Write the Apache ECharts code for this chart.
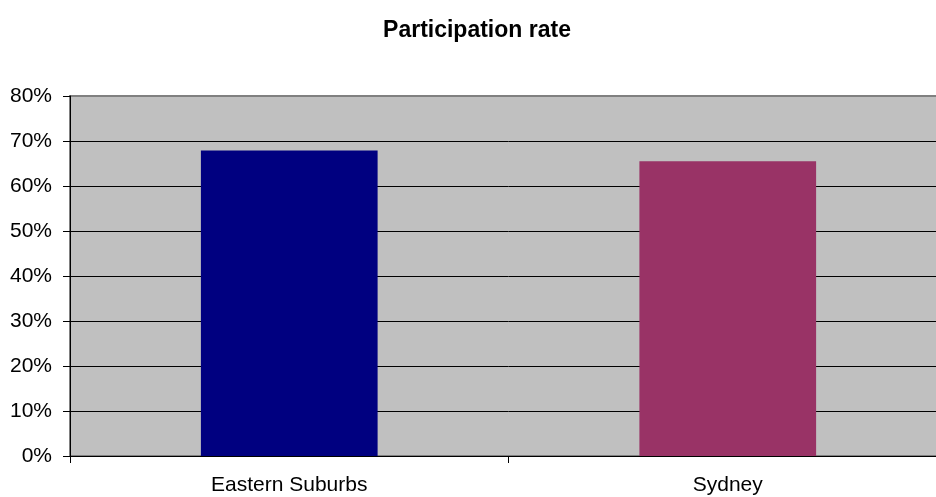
<!DOCTYPE html>
<html>
<head>
<meta charset="utf-8">
<script src="https://cdn.jsdelivr.net/npm/echarts@6/dist/echarts.min.js"></script>
<style>
html,body{margin:0;padding:0;background:#fff;overflow:hidden;width:936px;height:497px;}
#chart{width:960px;height:497px;}
</style>
</head>
<body>
<div id="chart"></div>
<script>
var titleText = 'Participation rate';
var categories = ['Eastern Suburbs', 'Sydney'];
var values = [67.9, 65.5];
var barColors = ['#000080', '#993366'];
var yMin = 0, yMax = 80, yStep = 10;

var chart = echarts.init(document.getElementById('chart'), null, {renderer: 'canvas'});
var font = 'Liberation Sans, Arial, sans-serif';
chart.setOption({
  animation: false,
  backgroundColor: '#ffffff',
  title: {
    text: titleText,
    left: 472, top: 14, textAlign: 'center',
    textStyle: {fontFamily: font, fontSize: 23, fontWeight: 'bold', color: '#000'}
  },
  grid: {
    left: 70, top: 96, width: 877, height: 360,
    show: true, backgroundColor: '#C0C0C0',
    borderColor: '#808080', borderWidth: 2
  },
  xAxis: {
    type: 'category',
    data: categories,
    boundaryGap: true,
    axisLine: {show: true, lineStyle: {color: '#000', width: 1}},
    axisTick: {show: true, alignWithLabel: false, length: 7, lineStyle: {color: '#000'}},
    axisLabel: {margin: 19, fontFamily: font, fontSize: 21, color: '#000'},
    splitLine: {show: false}
  },
  yAxis: {
    type: 'value',
    min: yMin, max: yMax, interval: yStep,
    axisLine: {show: true, lineStyle: {color: '#000', width: 1}},
    axisTick: {show: true, length: 7, lineStyle: {color: '#000'}},
    axisLabel: {margin: 18, fontFamily: font, fontSize: 21, color: '#000', formatter: '{value}%'},
    splitLine: {show: true, showMaxLine: false, lineStyle: {color: '#000', width: 1}}
  },
  series: [{
    type: 'bar',
    data: values.map(function (v, i) { return {value: v, itemStyle: {color: barColors[i]}}; }),
    barCategoryGap: '59.7%'
  }]
});
</script>
</body>
</html>
